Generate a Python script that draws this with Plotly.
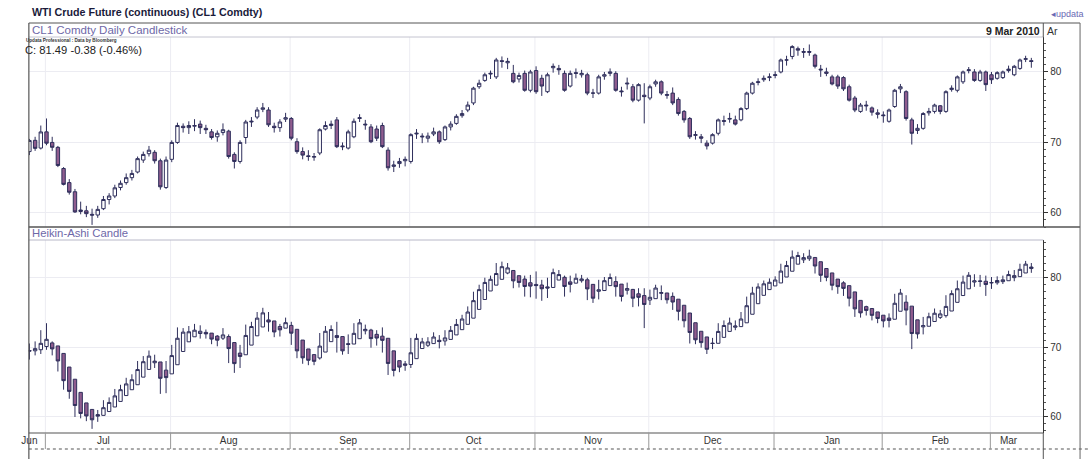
import pandas as pd
import plotly.graph_objects as go

W, H = 1088, 459

# Trading calendar (NYMEX holidays removed)
START, END = "2009-06-25", "2010-03-09"
HOLIDAYS = ["2009-07-03", "2009-09-07", "2009-11-26", "2009-12-25",
            "2010-01-01", "2010-01-18", "2010-02-15"]
DATES = [d.strftime("%Y-%m-%d") for d in pd.bdate_range(START, END)
         if d.strftime("%Y-%m-%d") not in HOLIDAYS]

# CL1 Comdty daily OHLC (USD/bbl)
OPEN = [68.7, 70.3, 69.2, 71.5, 70.0, 69.3, 66.3, 64.3, 63.0, 60.2,
        60.3, 59.8, 59.7, 60.6, 61.9, 62.4, 63.6, 64.3, 65.0, 65.8,
        67.5, 68.4, 68.6, 67.4, 63.6, 67.6, 70.0, 72.3, 72.1, 72.3,
        72.6, 72.0, 71.5, 70.8, 71.4, 71.6, 68.3, 67.3, 70.7, 72.9,
        73.6, 74.7, 74.6, 72.3, 72.1, 73.3, 73.4, 70.1, 68.7, 68.1,
        67.9, 68.5, 71.9, 72.4, 73.2, 69.5, 69.2, 70.8, 73.4, 72.6,
        72.2, 71.9, 72.4, 68.9, 66.6, 67.0, 67.4, 67.3, 71.2, 70.9,
        70.6, 71.2, 71.5, 70.4, 72.2, 72.7, 73.8, 74.6, 75.6, 77.9,
        78.8, 79.7, 79.3, 81.6, 81.3, 79.8, 79.0, 79.8, 77.4, 80.2,
        79.1, 77.2, 80.6, 80.5, 79.8, 78.0, 79.9, 79.6, 79.6, 77.0,
        77.0, 79.4, 79.8, 79.8, 77.3, 78.3, 77.9, 76.0, 76.7, 76.3,
        78.3, 78.6, 76.8, 77.0, 76.1, 74.4, 73.4, 71.0, 70.8, 69.9,
        69.9, 71.3, 73.1, 73.3, 73.2, 73.2, 74.8, 77.0, 78.5, 78.9,
        79.2, 79.5, 80.0, 81.7, 82.2, 83.3, 82.9, 82.9, 82.4, 80.4,
        80.0, 79.3, 79.3, 79.2, 77.9, 76.3, 74.4, 75.3, 74.9, 74.2,
        73.9, 73.0, 75.1, 77.6, 77.2, 73.2, 71.7, 72.0, 74.2, 74.4,
        75.2, 74.4, 77.5, 77.4, 78.6, 80.2, 80.0, 78.8, 80.0, 79.6,
        79.1, 79.2, 80.2, 79.6, 80.5, 81.8, 81.6]
HIGH = [70.5, 70.8, 72.4, 73.4, 70.8, 69.5, 66.5, 64.8, 63.4, 61.6,
        61.0, 60.6, 61.0, 62.4, 62.8, 64.0, 64.6, 65.6, 66.1, 68.0,
        68.7, 69.5, 68.9, 67.7, 68.0, 70.3, 72.8, 72.7, 73.0, 73.3,
        73.1, 72.5, 71.9, 71.7, 72.7, 71.8, 68.6, 70.3, 73.2, 73.6,
        75.0, 75.6, 75.0, 72.8, 73.3, 74.2, 73.6, 70.6, 69.3, 68.9,
        68.5, 72.0, 73.0, 73.1, 73.6, 70.0, 71.8, 73.4, 74.0, 73.2,
        72.6, 72.4, 72.8, 69.3, 67.4, 67.8, 68.0, 71.3, 71.9, 71.3,
        71.4, 72.1, 71.7, 72.4, 73.0, 74.0, 74.6, 75.8, 77.9, 78.9,
        79.9, 80.2, 82.0, 82.2, 82.0, 81.0, 79.9, 80.2, 80.3, 80.8,
        79.6, 79.9, 81.2, 81.0, 80.2, 80.2, 80.5, 80.3, 79.9, 77.6,
        79.6, 80.0, 80.5, 80.1, 77.9, 79.2, 78.3, 78.4, 78.4, 78.2,
        78.9, 78.8, 77.3, 77.8, 76.4, 74.6, 73.6, 71.6, 71.2, 70.3,
        71.3, 73.4, 73.8, 74.2, 73.8, 75.0, 77.2, 78.6, 79.1, 79.5,
        79.8, 80.1, 81.9, 82.3, 83.8, 83.6, 83.4, 83.9, 82.6, 81.0,
        80.6, 79.6, 79.6, 79.4, 78.2, 76.6, 75.6, 75.9, 75.1, 74.7,
        74.4, 74.8, 77.6, 78.3, 77.4, 73.5, 72.6, 74.3, 74.9, 75.5,
        75.3, 77.4, 78.1, 79.5, 80.2, 80.7, 80.4, 80.3, 80.2, 80.0,
        80.1, 80.2, 80.9, 81.0, 81.9, 82.3, 82.0]
LOW = [68.2, 68.8, 69.0, 69.6, 68.8, 66.5, 63.9, 62.6, 60.0, 59.8,
       59.4, 58.3, 59.3, 60.4, 61.2, 62.1, 63.2, 64.0, 64.6, 65.6,
       67.1, 68.0, 67.0, 63.3, 63.4, 67.2, 69.8, 71.4, 71.2, 71.6,
       71.2, 71.2, 70.4, 70.1, 71.0, 67.7, 66.3, 67.0, 69.8, 72.2,
       73.3, 74.3, 72.2, 71.4, 71.5, 72.9, 70.3, 68.4, 67.6, 67.4,
       67.4, 68.2, 71.7, 71.9, 69.2, 68.9, 69.0, 70.6, 72.9, 71.8,
       69.9, 70.2, 69.2, 66.0, 65.8, 66.4, 66.6, 67.0, 70.5, 69.9,
       70.0, 70.9, 69.8, 70.2, 71.7, 72.5, 73.5, 74.3, 75.3, 77.6,
       78.6, 79.0, 79.0, 80.6, 80.4, 78.4, 78.5, 77.2, 77.1, 76.9,
       76.6, 77.0, 79.9, 79.6, 77.2, 77.8, 79.1, 79.2, 76.7, 76.3,
       76.8, 78.9, 79.4, 77.2, 76.5, 77.5, 75.7, 75.8, 72.7, 76.0,
       77.9, 76.7, 76.2, 75.3, 73.8, 72.8, 70.5, 70.4, 69.9, 69.0,
       69.7, 71.0, 72.4, 72.8, 72.4, 73.0, 74.6, 76.8, 78.1, 78.6,
       78.7, 79.1, 79.8, 80.9, 81.8, 82.3, 82.0, 82.3, 80.5, 79.3,
       79.4, 78.1, 77.6, 77.3, 75.8, 74.3, 74.2, 74.5, 73.8, 73.4,
       72.8, 72.8, 74.9, 77.0, 73.1, 69.7, 71.2, 71.8, 73.8, 74.1,
       74.0, 74.2, 77.2, 77.1, 78.3, 79.8, 78.6, 78.6, 77.3, 78.3,
       78.9, 79.0, 79.9, 79.4, 80.3, 81.4, 80.6]
CLOSE = [70.28, 69.16, 71.49, 69.89, 69.31, 66.73, 64.05, 62.93, 60.14, 60.41,
         59.89, 59.69, 60.5, 61.9, 62.4, 63.56, 64.2, 65.0, 65.6, 67.7,
         68.3, 68.9, 67.4, 63.7, 67.5, 70.0, 72.4, 72.1, 72.4, 72.4,
         72.1, 71.8, 70.7, 71.3, 71.8, 68.0, 67.3, 70.0, 72.9, 73.0,
         74.6, 74.9, 72.5, 72.1, 72.9, 73.5, 70.6, 68.7, 68.2, 68.0,
         68.0, 71.8, 72.4, 72.6, 69.4, 69.4, 71.5, 73.0, 73.5, 72.5,
         70.1, 70.6, 69.4, 66.4, 66.8, 67.3, 67.6, 71.1, 71.3, 70.8,
         70.9, 71.5, 70.1, 72.2, 72.6, 73.7, 74.1, 75.3, 77.7, 78.4,
         79.6, 79.8, 81.7, 81.5, 81.5, 78.6, 79.5, 77.4, 80.0, 77.2,
         78.0, 79.6, 80.8, 80.3, 77.4, 79.8, 79.8, 79.8, 77.0, 77.0,
         79.3, 79.6, 80.0, 77.4, 77.2, 78.4, 76.0, 78.2, 76.5, 77.9,
         78.6, 77.0, 76.7, 75.6, 74.1, 73.2, 70.8, 71.1, 70.6, 69.5,
         71.1, 73.2, 73.0, 73.4, 72.6, 74.8, 77.0, 78.4, 78.6, 79.1,
         79.3, 79.6, 81.7, 81.7, 83.6, 83.1, 82.8, 82.8, 80.8, 80.3,
         79.8, 78.3, 78.0, 77.6, 76.0, 74.6, 75.3, 75.2, 74.3, 74.0,
         73.8, 74.6, 77.4, 77.9, 73.4, 71.3, 72.0, 74.1, 74.4, 75.3,
         74.4, 77.2, 77.7, 79.3, 80.0, 80.3, 78.8, 80.0, 78.2, 78.9,
         79.9, 80.0, 80.4, 80.8, 81.7, 81.87, 81.49]

MONTH_TICKS = ["2009-06-25", "2009-07-15", "2009-08-14", "2009-09-15", "2009-10-15",
               "2009-11-13", "2009-12-15", "2010-01-15", "2010-02-12", "2010-03-03"]
MONTH_LABELS = ["Jun", "Jul", "Aug", "Sep", "Oct", "Nov", "Dec", "Jan", "Feb", "Mar"]

# Heikin-Ashi transform of the daily bars
ha_close = [(o + h + l + c) / 4 for o, h, l, c in zip(OPEN, HIGH, LOW, CLOSE)]
ha_open = [(OPEN[0] + CLOSE[0]) / 2]
for k in range(1, len(DATES)):
    ha_open.append((ha_open[k - 1] + ha_close[k - 1]) / 2)
ha_high = [max(h, o, c) for h, o, c in zip(HIGH, ha_open, ha_close)]
ha_low = [min(l, o, c) for l, o, c in zip(LOW, ha_open, ha_close)]

EDGE = "#2f2f5c"
MAUVE = "#8f5c8e"
LAV = "#6e68a8"
FONT = "Liberation Sans, Arial, sans-serif"


def px(x):
    return x / W


def py(y):
    return 1 - y / H


candle_style = dict(
    increasing=dict(line=dict(color=EDGE, width=1), fillcolor="white"),
    decreasing=dict(line=dict(color=EDGE, width=1), fillcolor=MAUVE),
    whiskerwidth=0,
    showlegend=False,
    hoverinfo="x+y",
)

fig = go.Figure()
fig.add_trace(go.Candlestick(x=DATES, open=OPEN, high=HIGH, low=LOW, close=CLOSE,
                             xaxis="x", yaxis="y", name="CL1", **candle_style))
fig.add_trace(go.Candlestick(x=DATES, open=ha_open, high=ha_high, low=ha_low, close=ha_close,
                             xaxis="x2", yaxis="y2", name="Heikin-Ashi", **candle_style))

XR = [-0.1, 178.1]
XDOM = [px(22), px(1043)]
grid = "#ececf2"

common_x = dict(type="category", range=XR, domain=XDOM, showgrid=False,
                zeroline=False, showline=False, rangeslider=dict(visible=False),
                fixedrange=True)
common_y = dict(side="right", tickvals=[60, 70, 80], ticks="outside", ticklen=4,
                tickcolor="#333", showline=True, linecolor="#333", linewidth=1,
                showgrid=True, gridcolor=grid, zeroline=False,
                minor=dict(ticks="outside", ticklen=2, dtick=1, tickcolor="#555", showgrid=False),
                tickfont=dict(family=FONT, size=10, color="#333"), fixedrange=True)

fig.update_layout(
    width=W, height=H, autosize=False,
    margin=dict(l=0, r=0, t=0, b=0),
    paper_bgcolor="white", plot_bgcolor="white",
    font=dict(family=FONT, color="#222"),
    boxgap=0.15,
    xaxis=dict(anchor="y", showticklabels=False, ticks="", **common_x),
    xaxis2=dict(anchor="y2", tickvals=MONTH_TICKS, ticktext=MONTH_LABELS, ticks="",
                tickfont=dict(family=FONT, size=10, color="#333"), **common_x),
    yaxis=dict(anchor="x", domain=[py(227), py(37)], range=[58.0, 84.96], **common_y),
    yaxis2=dict(anchor="x2", domain=[py(433), py(240)], range=[57.71, 85.29], **common_y),
)

shapes = []


def hline(y, x0, x1, color, width=1, dash="solid"):
    shapes.append(dict(type="line", xref="paper", yref="paper", x0=px(x0), x1=px(x1),
                       y0=py(y), y1=py(y), line=dict(color=color, width=width, dash=dash)))


def vline(x, y0, y1, color, width=1, dash="solid"):
    shapes.append(dict(type="line", xref="paper", yref="paper", x0=px(x), x1=px(x),
                       y0=py(y0), y1=py(y1), line=dict(color=color, width=width, dash=dash)))


# frame of the two panes
hline(23, 22, 1080, "#555")
hline(37, 22, 1043, "#c4c4d0")
hline(227, 22, 1080, "#555", 1.5)
hline(240, 22, 1043, "#b8b8c8")
hline(433, 22, 1043, "#555", 1.2)
hline(449, 22, 1088, "#555", 1.2, "dot")
vline(22, 23, 459, "#555", 1.2)
vline(1043, 23, 37, "#555")
vline(1043, 433, 459, "#555")
vline(1080, 23, 459, "#666")

# month boundaries
month_keys = [d[:7] for d in DATES]
for k in range(1, len(DATES)):
    if month_keys[k] != month_keys[k - 1]:
        xb = k - 1.2
        for yref, lo, hi in (("y", 58.0, 84.96), ("y2", 57.71, 85.29)):
            shapes.append(dict(type="line", xref="x", yref=yref, x0=xb, x1=xb, y0=lo, y1=hi,
                               line=dict(color=grid, width=1), layer="below"))
        shapes.append(dict(type="line", xref="x", yref="paper", x0=xb, x1=xb,
                           y0=py(449), y1=py(433), line=dict(color="#999", width=1)))

fig.update_layout(shapes=shapes)

last, prev = CLOSE[-1], CLOSE[-2]
chg = last - prev
pct = chg / prev * 100
last_date = pd.Timestamp(DATES[-1])
date_txt = f"{last_date.day} {last_date.strftime('%b %Y')}"

notes = [
    (23, 12, "<b>WTI Crude Future (continuous) (CL1 Comdty)</b>", 10.7, "#1a1a3a", "left"),
    (1086, 14, "◂updata", 9, "#6a6ab4", "right"),
    (23, 30, "CL1 Comdty Daily Candlestick", 11.5, LAV, "left"),
    (1042, 31, f"<b>{date_txt}</b>", 10.5, "#222", "right"),
    (1045, 31, "Ar", 10.5, "#333", "left"),
    (17, 41, "<b>Updata Professional : Data by Bloomberg</b>", 4.6, "#333", "left"),
    (16, 50, f"C: {last:.2f} {chg:+.2f} ({pct:+.2f}%)".replace("+", ""), 11.2, "#222", "left"),
    (23, 233, "Heikin-Ashi Candle", 11.3, LAV, "left"),
]
for x, y, txt, size, color, anchor in notes:
    fig.add_annotation(x=px(x), y=py(y), xref="paper", yref="paper", text=txt,
                       showarrow=False, xanchor=anchor, yanchor="middle",
                       font=dict(family=FONT, size=size, color=color))

fig.write_html("out.html")
